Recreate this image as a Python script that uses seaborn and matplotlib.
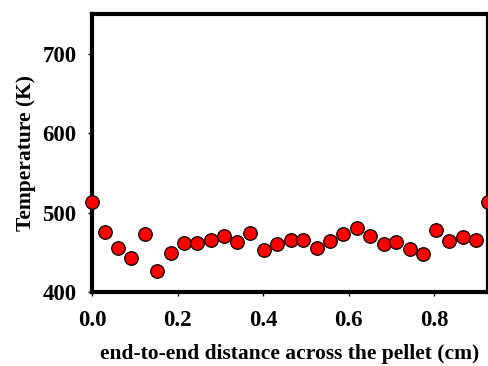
import matplotlib
matplotlib.use("Agg")
import matplotlib.pyplot as plt
import seaborn as sns
import pandas as pd

distance_cm = [0.0, 0.030, 0.061, 0.091, 0.123, 0.153, 0.184, 0.215, 0.246, 0.278,
               0.308, 0.339, 0.370, 0.401, 0.432, 0.464, 0.494, 0.526, 0.556, 0.587,
               0.618, 0.650, 0.681, 0.711, 0.742, 0.773, 0.804, 0.835, 0.866, 0.897, 0.926]
temperature_K = [513, 476, 455, 443, 473, 426, 449, 462, 462, 466,
                 470, 463, 474, 453, 460, 465, 465, 455, 464, 473,
                 481, 470, 461, 463, 454, 448, 478, 464, 469, 465, 513]
x_ticks = [0.0, 0.2, 0.4, 0.6, 0.8]
x_tick_labels = ["0.0", "0.2", "0.4", "0.6", "0.8"]
y_ticks = [400, 500, 600, 700]
y_tick_labels = ["400", "500", "600", "700"]

df = pd.DataFrame({"x": distance_cm, "T": temperature_K})

sns.set_style("white")
plt.rcParams["font.family"] = ["Liberation Serif", "DejaVu Serif"]
plt.rcParams["font.weight"] = "bold"
plt.rcParams["text.color"] = "black"
plt.rcParams["axes.labelcolor"] = "black"
plt.rcParams["xtick.color"] = "black"
plt.rcParams["ytick.color"] = "black"

fig = plt.figure(figsize=(4.89, 3.66), dpi=100)
ax = fig.add_axes([0.188, 0.202, 0.810, 0.760])
sns.scatterplot(data=df, x="x", y="T", ax=ax, color="#ff0000", edgecolor="black",
                linewidth=0.9, s=95, clip_on=False, zorder=5)

ax.set_xlim(0, 0.925)
ax.set_ylim(400, 750)
ax.set_xticks(x_ticks)
ax.set_xticklabels(x_tick_labels)
ax.set_yticks(y_ticks)
ax.set_yticklabels(y_tick_labels)
ax.tick_params(axis="both", which="major", direction="out", length=3, width=1,
               colors="black", labelsize=16.5, bottom=True, left=True)
ax.tick_params(axis="x", pad=10)
ax.tick_params(axis="y", pad=8)
for lbl in ax.get_xticklabels() + ax.get_yticklabels():
    lbl.set_fontweight("bold")
for sp in ax.spines.values():
    sp.set_linewidth(3)
    sp.set_color("black")
ax.set_xlabel("end-to-end distance across the pellet (cm)", fontsize=15.5,
              fontweight="bold", labelpad=9, color="black")
ax.set_ylabel("Temperature (K)", fontsize=15.5, fontweight="bold", labelpad=5,
              color="black")

fig.savefig("out.png", dpi=100)
